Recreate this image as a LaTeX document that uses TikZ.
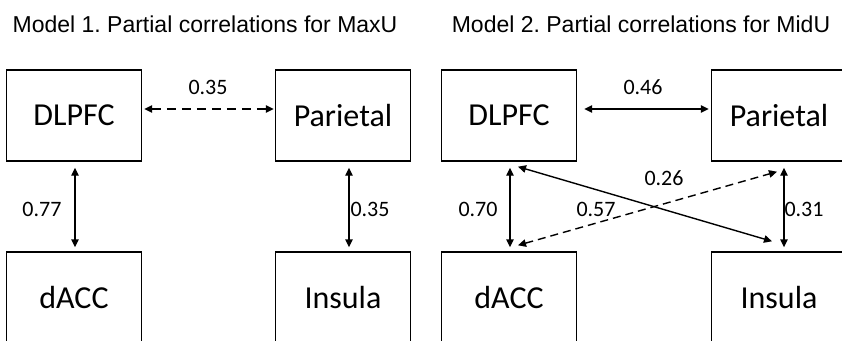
\documentclass[tikz,border=0pt]{standalone}
\usepackage{fontspec}
\setmainfont{Carlito}
\newfontfamily\titlefont{Liberation Sans}
\usetikzlibrary{arrows.meta}
\frenchspacing
\begin{document}
\begin{tikzpicture}[x=1pt,y=-1pt,
  region/.style={draw,line width=1.4pt,minimum width=135pt,minimum height=91pt,inner sep=0pt,font=\fontsize{32}{37}\selectfont},
  link/.style={line width=1.4pt,{Triangle[length=8pt,width=7.5pt]}-{Triangle[length=8pt,width=7.5pt]}},
  dashlink/.style={link,dash pattern=on 8pt off 5pt},
  val/.style={font=\fontsize{22}{26}\selectfont,inner sep=0pt},
  ttl/.style={font=\titlefont\fontsize{23}{28}\selectfont,anchor=base,inner sep=0pt}]
\useasboundingbox (0,0) rectangle (842,340);
\clip (0,0) rectangle (842,340);
\fill[white] (0,0) rectangle (842,340);
% titles
\node[ttl] (t1) at (205,32) {Model 1. Partial correlations for MaxU};
\node[ttl] (t2) at (641,32) {Model 2. Partial correlations for MidU};
% model 1 boxes
\node[region] (D1) at (74,115.5) {DLPFC};
\node[region] (P1) at (343,115.5) {Parietal};
\node[region] (A1) at (74,297.5) {dACC};
\node[region] (I1) at (343,297.5) {Insula};
% model 2 boxes
\node[region] (D2) at (509,115.5) {DLPFC};
\node[region] (P2) at (779,115.5) {Parietal};
\node[region] (A2) at (509,297.5) {dACC};
\node[region] (I2) at (779,297.5) {Insula};
% model 1 links
\draw[dashlink,dash pattern=on 9pt off 6pt] ([xshift=2pt,yshift=6.5pt]D1.east) -- ([xshift=-1pt,yshift=6.5pt]P1.west);
\draw[link] ([xshift=1pt,yshift=-6pt]D1.south) -- ([xshift=1pt,yshift=4pt]A1.north);
\draw[link] ([xshift=6pt,yshift=-6pt]P1.south) -- ([xshift=6pt,yshift=4pt]I1.north);
% model 2 links
\draw[link] ([xshift=7pt,yshift=6.5pt]D2.east) -- ([xshift=-2pt,yshift=6.5pt]P2.west);
\draw[link] ([xshift=1pt,yshift=-6pt]D2.south) -- ([xshift=1pt,yshift=4pt]A2.north);
\draw[link] ([xshift=5pt,yshift=-6pt]P2.south) -- ([xshift=5pt,yshift=4pt]I2.north);
\draw[link] ([xshift=9pt,yshift=-5pt]D2.south) -- ([xshift=-7pt,yshift=10pt]I2.north);
\draw[dashlink] ([xshift=9pt,yshift=6pt]A2.north) -- ([xshift=-2pt,yshift=-10pt]P2.south);
% labels
\node[val] (l1) at (208,87) {0.35};
\node[val] (l2) at (42,209) {0.77};
\node[val] (l3) at (370,209) {0.35};
\node[val] (l4) at (643,87) {0.46};
\node[val] (l5) at (478,209) {0.70};
\node[val] (l6) at (804,209) {0.31};
\node[val] (l7) at (664,178) {0.26};
\node[val] (l8) at (596,209) {0.57};
\end{tikzpicture}
\end{document}
